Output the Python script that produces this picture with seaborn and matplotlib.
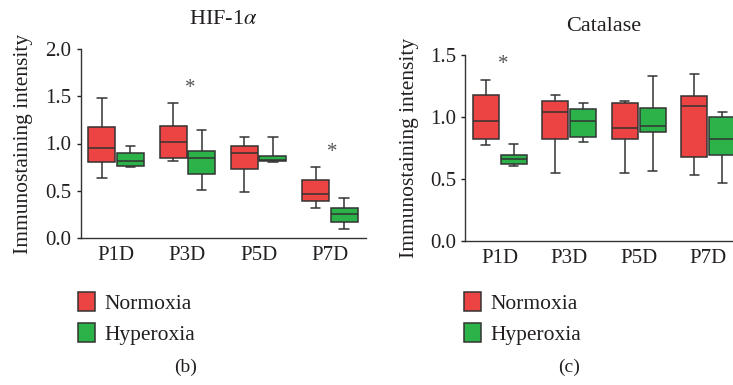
import numpy as np
import pandas as pd
import matplotlib
matplotlib.use("Agg")
import matplotlib.pyplot as plt
import seaborn as sns

# five-number summaries per box: [min, q1, median, q3, max]
days = ["P1D", "P3D", "P5D", "P7D"]
groups = ["Normoxia", "Hyperoxia"]

hif_normoxia = [[0.63, 0.80, 0.95, 1.17, 1.48],
                [0.82, 0.85, 1.02, 1.19, 1.43],
                [0.49, 0.73, 0.90, 0.97, 1.07],
                [0.32, 0.39, 0.47, 0.61, 0.75]]
hif_hyperoxia = [[0.75, 0.76, 0.81, 0.90, 0.97],
                 [0.51, 0.68, 0.85, 0.92, 1.14],
                 [0.80, 0.81, 0.83, 0.87, 1.07],
                 [0.10, 0.17, 0.25, 0.32, 0.42]]

cat_normoxia = [[0.77, 0.82, 0.97, 1.18, 1.30],
                [0.55, 0.82, 1.04, 1.13, 1.18],
                [0.55, 0.82, 0.91, 1.11, 1.13],
                [0.53, 0.68, 1.09, 1.17, 1.35]]
cat_hyperoxia = [[0.60, 0.62, 0.66, 0.69, 0.78],
                 [0.80, 0.84, 0.97, 1.06, 1.11],
                 [0.56, 0.875, 0.93, 1.075, 1.33],
                 [0.47, 0.69, 0.82, 1.00, 1.04]]

palette = {"Normoxia": "#EC4343", "Hyperoxia": "#2BB34A"}
ink = "#231F20"


def to_frame(norm, hyper):
    rows = []
    for d, n, h in zip(days, norm, hyper):
        for v in n:
            rows.append((d, "Normoxia", v))
        for v in h:
            rows.append((d, "Hyperoxia", v))
    return pd.DataFrame(rows, columns=["day", "group", "value"])


sns.set_style("ticks")
plt.rcParams["font.family"] = ["Liberation Serif", "DejaVu Serif"]
plt.rcParams["mathtext.fontset"] = "stix"
plt.rcParams["text.color"] = ink

fig = plt.figure(figsize=(7.33, 3.85), dpi=100)
ax1 = fig.add_axes([80.5 / 733, (385 - 238) / 385, 285 / 733, 189 / 385])
ax2 = fig.add_axes([465 / 733, (385 - 240.7) / 385, 278 / 733, 185.7 / 385])

panels = [
    (ax1, to_frame(hif_normoxia, hif_hyperoxia), "HIF-1$\\alpha$", 2.0,
     [0, 0.5, 1.0, 1.5, 2.0], [(1.04, 1.58), (3.03, 0.90)], 78, 186, "(b)", 18, 9),
    (ax2, to_frame(cat_normoxia, cat_hyperoxia), "Catalase", 1.5,
     [0, 0.5, 1.0, 1.5], [(0.05, 1.42)], 464, 569, "(c)", 17, 8),
]

for ax, df, title, ytop, yticks, stars, legx, capx, cap, tpad, lpad in panels:
    sns.boxplot(data=df, x="day", y="value", hue="group", order=days,
                hue_order=groups, palette=palette, whis=np.inf, width=0.8,
                gap=0.06, saturation=1, linewidth=1.1, linecolor="#333333",
                capwidths=0.13, ax=ax)
    ax.set_xlim(-0.5, 3.5)
    ax.set_ylim(0, ytop)
    ax.set_yticks(yticks)
    ax.set_yticklabels([f"{t:.1f}" for t in yticks])
    ax.set_xlabel("")
    ax.set_ylabel("Immunostaining intensity", fontsize=15.5, color=ink,
                  labelpad=lpad)
    ax.set_title(title, fontsize=16, color=ink, pad=tpad)
    ax.tick_params(axis="y", labelsize=15, colors=ink, length=3, width=1)
    ax.tick_params(axis="x", labelsize=15, colors=ink, length=0, pad=6)
    sns.despine(ax=ax)
    for s in ["left", "bottom"]:
        ax.spines[s].set_color("#333333")
        ax.spines[s].set_linewidth(1.0)
    for sx, sy in stars:
        ax.text(sx, sy, "*", fontsize=15, color="#555555", ha="center", va="center")
    handles, labels = ax.get_legend_handles_labels()
    ax.legend(handles, labels, loc="upper left", frameon=False, fontsize=15.5,
              bbox_to_anchor=(legx / 733, 1 - 292 / 385),
              bbox_transform=fig.transFigure, borderaxespad=0, borderpad=0,
              handlelength=0.8, handleheight=1.0, handletextpad=0.45,
              labelspacing=0.4)
    fig.text(capx / 733, 1 - 367 / 385, cap, fontsize=14, color=ink,
             ha="center", va="center")

fig.savefig("out.png", dpi=100)
